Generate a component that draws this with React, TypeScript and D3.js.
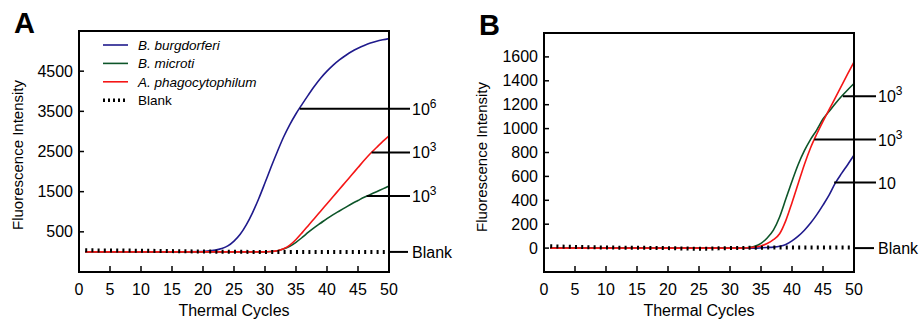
import * as d3 from "d3";

// ---- shared ----
const X_TICKS = [0, 5, 10, 15, 20, 25, 30, 35, 40, 45, 50];
const BLUE = "#1f1a8c";
const GREEN = "#0d5529";
const RED = "#f51616";
const FONT = "'Liberation Sans', Arial, Helvetica, sans-serif";

// ---- panel A ----
const CYCLES_A = [1, 5, 10, 15, 20, 21, 22, 23, 24, 25, 26, 27, 28, 29, 30, 31, 32, 33, 34, 35, 36, 37, 38, 39, 40, 41, 42, 43, 44, 45, 46, 47, 48, 49, 50];
const BURG_A = [0, 0, 0, 0, 10, 25, 45, 85, 150, 270, 440, 680, 980, 1330, 1720, 2120, 2500, 2860, 3170, 3440, 3680, 3910, 4130, 4330, 4500, 4650, 4780, 4890, 4990, 5070, 5140, 5200, 5245, 5280, 5310];
const MICROTI_A = [0, 0, 0, 0, 0, 0, 0, 0, 0, 0, 0, 0, 0, 0, 0, 10, 30, 70, 140, 240, 360, 490, 610, 720, 830, 930, 1020, 1110, 1200, 1280, 1360, 1430, 1500, 1570, 1640];
const PHAGO_A = [0, 0, 0, 0, 0, 0, 0, 0, 0, 0, 0, 0, 0, 0, 0, 10, 30, 80, 170, 310, 480, 660, 840, 1020, 1200, 1380, 1560, 1740, 1920, 2100, 2280, 2450, 2600, 2750, 2890];
const BLANK_CYCLES_A = [1, 10, 20, 30, 40, 50];
const BLANK_A = [40, 30, 10, 0, 0, 0];
const Y_TICKS_A = [500, 1500, 2500, 3500, 4500];
const LABELS_A = [
  { cycle: 35.6, value: 3565, text: "10", sup: "6" },
  { cycle: 47.2, value: 2478, text: "10", sup: "3" },
  { cycle: 46.4, value: 1390, text: "10", sup: "3" },
  { cycle: 50, value: 0, text: "Blank", sup: "" },
];

// ---- panel B ----
const CYCLES_B = [1, 5, 10, 15, 20, 25, 30, 31, 32, 33, 34, 35, 36, 37, 38, 39, 40, 41, 42, 43, 44, 45, 46, 47, 48, 49, 50];
const BURG_B = [0, 0, 0, 0, 0, 0, 0, 0, 0, 0, 0, 2, 5, 8, 15, 30, 60, 100, 150, 210, 280, 360, 445, 545, 625, 700, 778];
const MICROTI_B = [0, 0, 0, 0, 0, 0, 0, 0, 2, 5, 15, 40, 85, 150, 260, 410, 560, 700, 815, 910, 990, 1080, 1145, 1210, 1270, 1325, 1377];
const PHAGO_B = [0, 0, 0, 0, 0, 0, 0, 0, 0, 3, 8, 18, 38, 70, 120, 230, 380, 540, 700, 840, 955, 1060, 1160, 1260, 1360, 1460, 1558];
const BLANK_CYCLES_B = [1, 10, 20, 25, 30, 40, 50];
const BLANK_B = [15, 5, 0, -5, 0, 5, 5];
const Y_TICKS_B = [0, 200, 400, 600, 800, 1000, 1200, 1400, 1600];
const LABELS_B = [
  { cycle: 48.2, value: 1270, text: "10", sup: "3" },
  { cycle: 43.6, value: 908, text: "10", sup: "3" },
  { cycle: 46.8, value: 548, text: "10", sup: "" },
  { cycle: 50, value: 0, text: "Blank", sup: "" },
];

const LEGEND = [
  { name: "B. burgdorferi", color: BLUE, italic: true },
  { name: "B. microti", color: GREEN, italic: true },
  { name: "A. phagocytophilum", color: RED, italic: true },
  { name: "Blank", color: "#000", italic: false },
];

type Label = { cycle: number; value: number; text: string; sup: string };

interface PanelProps {
  letter: string;
  left: number;
  top: number;
  width: number;
  height: number;
  yDomain: [number, number];
  yTicks: number[];
  cycles: number[];
  series: { values: number[]; color: string }[];
  blankCycles: number[];
  blank: number[];
  labels: Label[];
  lineEnd: number; // px past the frame
  titleX: number;
  legend?: boolean;
}

function Panel(p: PanelProps) {
  const x = d3.scaleLinear().domain([0, 50]).range([p.left, p.left + p.width]);
  const y = d3.scaleLinear().domain(p.yDomain).range([p.top + p.height, p.top]);
  const line = d3
    .line<[number, number]>()
    .x((d) => x(d[0]))
    .y((d) => y(d[1]))
    .curve(d3.curveMonotoneX);
  const bottom = p.top + p.height;
  const right = p.left + p.width;

  return (
    <g fontFamily={FONT}>
      <text x={p.left - 65} y={p.top + 2} fontSize={29} fontWeight="bold">
        {p.letter}
      </text>

      {p.series.map((s, i) => (
        <path
          key={i}
          d={line(p.cycles.map((c, j) => [c, s.values[j]] as [number, number])) ?? ""}
          fill="none"
          stroke={s.color}
          strokeWidth={1.6}
        />
      ))}
      <path
        d={line(p.blankCycles.map((c, j) => [c, p.blank[j]] as [number, number])) ?? ""}
        fill="none"
        stroke="#000"
        strokeWidth={4}
        strokeDasharray={`2 ${x(1) - x(0) - 2}`}
      />

      {/* frame */}
      <rect x={p.left} y={p.top} width={p.width} height={p.height} fill="none" stroke="#000" strokeWidth={2} />

      {X_TICKS.map((t) => (
        <g key={t}>
          <line x1={x(t)} x2={x(t)} y1={bottom} y2={bottom - 6} stroke="#000" strokeWidth={1.5} />
          <text x={x(t)} y={bottom + 23} fontSize={16} textAnchor="middle">
            {t}
          </text>
        </g>
      ))}
      {p.yTicks.map((t) => (
        <g key={t}>
          <line x1={p.left} x2={p.left + 5} y1={y(t)} y2={y(t)} stroke="#000" strokeWidth={1.5} />
          <text x={p.left - 6} y={y(t) + 5.5} fontSize={16} textAnchor="end">
            {t}
          </text>
        </g>
      ))}

      <text x={p.left + p.width / 2} y={bottom + 44} fontSize={16} textAnchor="middle">
        Thermal Cycles
      </text>
      <text
        transform={`translate(${p.titleX},${p.top + 124}) rotate(-90)`}
        fontSize={15}
        textAnchor="middle"
      >
        Fluorescence Intensity
      </text>

      {p.labels.map((l, i) => {
        const isBlank = l.text === "Blank";
        const x2 = right + (isBlank ? p.lineEnd - 2 : p.lineEnd);
        return (
          <g key={i}>
            <line x1={x(l.cycle)} x2={x2} y1={y(l.value)} y2={y(l.value)} stroke="#000" strokeWidth={2} />
            <text x={right + p.lineEnd + 2} y={y(l.value) + 6} fontSize={16}>
              {l.text}
              {l.sup && (
                <tspan dy={-7} fontSize={12}>
                  {l.sup}
                </tspan>
              )}
            </text>
          </g>
        );
      })}

      {p.legend &&
        LEGEND.map((d, i) => {
          const ly = 45 + i * 18.4;
          return (
            <g key={d.name}>
              <line
                x1={103}
                x2={128}
                y1={ly}
                y2={ly}
                stroke={d.color}
                strokeWidth={d.italic ? 1.6 : 3.5}
                strokeDasharray={d.italic ? undefined : "2 3"}
              />
              <text x={138} y={ly + 5} fontSize={13.5} fontStyle={d.italic ? "italic" : "normal"}>
                {d.name}
              </text>
            </g>
          );
        })}
    </g>
  );
}

export default function App() {
  return (
    <div style={{ position: "fixed", left: 0, top: 0, background: "#fff" }}>
      <svg width={919} height={323} style={{ display: "block" }}>
        <rect width={919} height={323} fill="#fff" />
        <Panel
          letter="A"
          left={79}
          top={31}
          width={310}
          height={241}
          yDomain={[-500, 5500]}
          yTicks={Y_TICKS_A}
          cycles={CYCLES_A}
          series={[
            { values: BURG_A, color: BLUE },
            { values: MICROTI_A, color: GREEN },
            { values: PHAGO_A, color: RED },
          ]}
          blankCycles={BLANK_CYCLES_A}
          blank={BLANK_A}
          labels={LABELS_A}
          lineEnd={21}
          titleX={23}
          legend
        />
        <Panel
          letter="B"
          left={544}
          top={33}
          width={310}
          height={239}
          yDomain={[-200, 1800]}
          yTicks={Y_TICKS_B}
          cycles={CYCLES_B}
          series={[
            { values: BURG_B, color: BLUE },
            { values: MICROTI_B, color: GREEN },
            { values: PHAGO_B, color: RED },
          ]}
          blankCycles={BLANK_CYCLES_B}
          blank={BLANK_B}
          labels={LABELS_B}
          lineEnd={22}
          titleX={487}
        />
      </svg>
    </div>
  );
}
